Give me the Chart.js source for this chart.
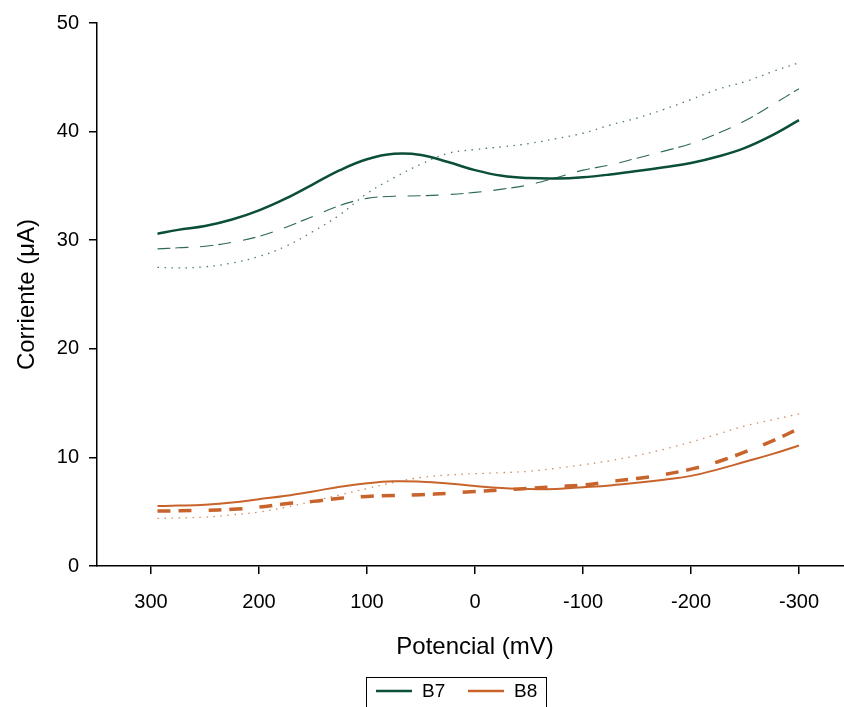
<!DOCTYPE html>
<html>
<head>
<meta charset="utf-8">
<script src="https://cdn.jsdelivr.net/npm/chart.js@4"></script>
<style>
  body { margin: 0; background: #fff; overflow: hidden; }
  #wrap { width: 844px; height: 707px; overflow: hidden; }
</style>
</head>
<body>
<div id="wrap"><canvas id="chart" width="880" height="707"></canvas></div>
<script>
// Potential (mV), shared by every curve
const potential = [294, 275, 250, 225, 200, 175, 150, 125, 100, 75, 50, 25, 0,
  -25, -50, -75, -100, -125, -150, -175, -200, -225, -250, -275, -300];

// B7 curves (µA)
const b7Solid = [30.6, 30.95, 31.3, 31.9, 32.75, 33.85, 35.15, 36.45, 37.45, 37.95, 37.85, 37.2, 36.45,
  35.93, 35.72, 35.68, 35.8, 36.05, 36.37, 36.72, 37.1, 37.7, 38.5, 39.65, 41.05];
const b7Dash = [29.2, 29.3, 29.45, 29.8, 30.35, 31.2, 32.2, 33.2, 33.85, 34.05, 34.09, 34.2, 34.4,
  34.7, 35.1, 35.75, 36.45, 36.93, 37.55, 38.2, 38.9, 39.85, 41.0, 42.45, 43.95];
const b7Dot = [27.5, 27.45, 27.55, 27.9, 28.5, 29.45, 30.8, 32.35, 34.3, 35.75, 37.0, 38.0, 38.35,
  38.6, 38.9, 39.35, 39.85, 40.6, 41.25, 42.05, 42.95, 43.9, 44.6, 45.5, 46.35];

// B8 curves (µA)
const b8Solid = [5.52, 5.56, 5.65, 5.84, 6.15, 6.47, 6.87, 7.3, 7.62, 7.8, 7.76, 7.6, 7.37,
  7.18, 7.08, 7.1, 7.25, 7.42, 7.66, 7.95, 8.3, 8.9, 9.6, 10.3, 11.1];
const b8Dash = [5.06, 5.08, 5.13, 5.22, 5.42, 5.73, 5.95, 6.24, 6.41, 6.49, 6.57, 6.69, 6.86,
  7.0, 7.14, 7.31, 7.45, 7.78, 8.06, 8.42, 8.92, 9.6, 10.5, 11.5, 12.65];
const b8Dot = [4.39, 4.42, 4.5, 4.71, 4.97, 5.42, 5.96, 6.55, 7.13, 7.7, 8.15, 8.38, 8.5,
  8.6, 8.72, 9.0, 9.32, 9.7, 10.17, 10.75, 11.4, 12.15, 12.9, 13.45, 14.0];

const xTicks = [300, 200, 100, 0, -100, -200, -300];
const yTicks = [0, 10, 20, 30, 40, 50];

const GREEN = '#0b4f37';
const ORANGE = '#c8632b';
const FONT = "'Liberation Sans', Arial, sans-serif";

const pts = (ys) => potential.map((x, i) => ({ x: x, y: ys[i] }));

function series(label, ys, color, width, dash, inLegend) {
  return {
    label: label,
    data: pts(ys),
    borderColor: color,
    borderWidth: width,
    borderDash: dash,
    pointRadius: 0,
    tension: 0.4,
    fill: false,
    inLegend: inLegend
  };
}

// boxed legend under the axis title, only the solid lines
const boxLegend = {
  id: 'boxLegend',
  afterDraw(chart) {
    const ctx = chart.ctx;
    const items = chart.data.datasets.filter(d => d.inLegend);
    ctx.save();
    ctx.strokeStyle = '#000';
    ctx.lineWidth = 1;
    ctx.strokeRect(366.5, 677.5, 180, 50);
    ctx.font = '19px ' + FONT;
    ctx.textBaseline = 'middle';
    ctx.fillStyle = '#000';
    let x = 376;
    items.forEach(d => {
      ctx.beginPath();
      ctx.strokeStyle = d.borderColor;
      ctx.lineWidth = 2.5;
      ctx.moveTo(x, 691);
      ctx.lineTo(x + 36, 691);
      ctx.stroke();
      ctx.fillText(d.label, x + 46, 692);
      x += 92;
    });
    ctx.restore();
  }
};

new Chart(document.getElementById('chart'), {
  type: 'line',
  data: {
    datasets: [
      series('B7', b7Solid, GREEN, 2.5, [], true),
      series('B7 b', b7Dash, '#2e6a54', 1.1, [13, 5, 13, 12], false),
      series('B7 c', b7Dot, '#4f7d6a', 1.3, [1.5, 5.5], false),
      series('B8', b8Solid, ORANGE, 2, [], true),
      series('B8 b', b8Dash, ORANGE, 3.5, [13, 8, 13, 17], false),
      series('B8 c', b8Dot, '#d48c5f', 1.3, [1.5, 5.5], false)
    ]
  },
  options: {
    responsive: false,
    animation: false,
    devicePixelRatio: 1,
    layout: { padding: { top: 23, right: 27, left: 0, bottom: 0 } },
    plugins: {
      legend: { display: false },
      tooltip: { enabled: false }
    },
    scales: {
      x: {
        type: 'linear',
        reverse: true,
        min: -350,
        max: 350,
        afterBuildTicks: (s) => { s.ticks = xTicks.map(v => ({ value: v })); },
        afterFit: (s) => { s.height = 141; },
        ticks: { color: '#000', font: { family: FONT, size: 20 }, padding: 16 },
        grid: { drawOnChartArea: false, tickLength: 8, color: '#000', lineWidth: 1.5 },
        border: { color: '#000', width: 1.5 },
        title: {
          display: true,
          text: 'Potencial (mV)',
          color: '#000',
          font: { family: FONT, size: 24 },
          padding: { top: 0, bottom: 45 }
        }
      },
      y: {
        min: 0,
        max: 50,
        afterBuildTicks: (s) => { s.ticks = yTicks.map(v => ({ value: v })); },
        afterFit: (s) => { s.width = 97; },
        ticks: { color: '#000', font: { family: FONT, size: 20 }, padding: 10 },
        grid: { drawOnChartArea: false, tickLength: 8, color: '#000', lineWidth: 1.5 },
        border: { color: '#000', width: 1.5 },
        title: {
          display: true,
          text: 'Corriente (μA)',
          color: '#000',
          font: { family: FONT, size: 24 },
          padding: { top: 13, bottom: 0 }
        }
      }
    }
  },
  plugins: [boxLegend]
});
</script>
</body>
</html>
